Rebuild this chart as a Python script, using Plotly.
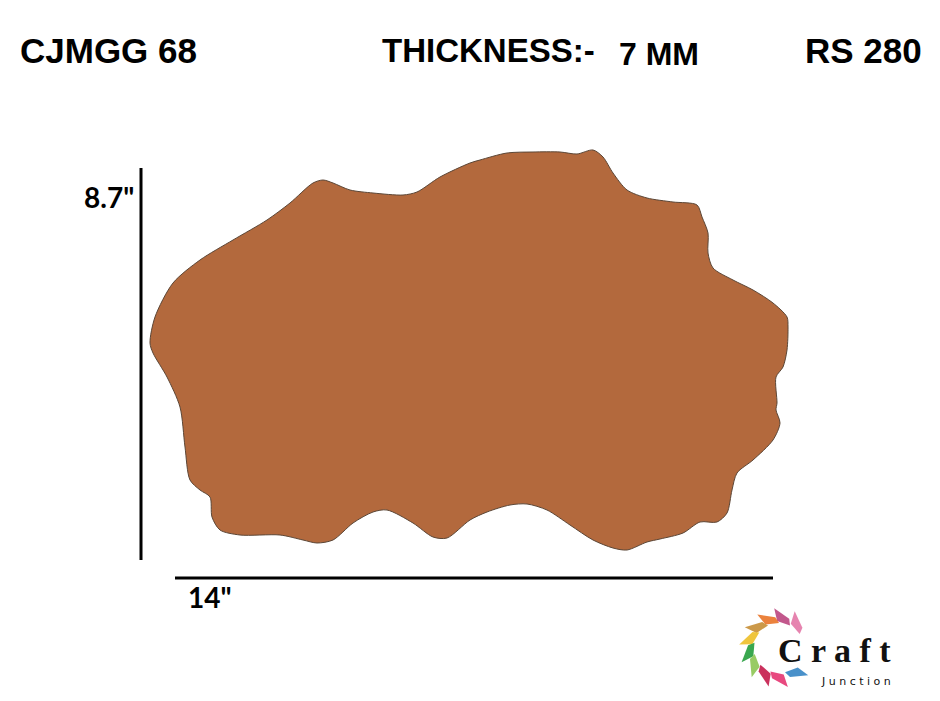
import math
import plotly.graph_objects as go

# =============================================================================
# Product sheet: CJMGG 68 craft blank, 14" x 8.7", 7 mm thick
# Canvas uses pixel-like units (0..940 wide, 0..701 tall, y downward)
# =============================================================================

# Header texts
product_code = "CJMGG 68"
thickness_label = "THICKNESS:-"
thickness_value = "7 MM"
price_label = "RS 280"
height_label = '8.7"'
width_label = '14"'

# Outline of the blank, traced clockwise from the left edge
outline_x = [150, 155, 173, 200, 233, 267, 290, 313, 323, 333, 350, 373, 403, 417,
             440, 470, 480, 507, 533, 560, 577, 593, 603, 613, 627, 647, 673, 697,
             702, 708, 708, 713, 733, 753, 773, 787, 788, 787, 783, 776, 777, 776,
             780, 773, 753, 737, 732, 727, 717, 700, 683, 660, 647, 627, 613, 593,
             570, 547, 527, 510, 487, 470, 447, 433, 413, 387, 373, 353, 333, 317,
             303, 280, 240, 220, 212, 210, 200, 190, 185, 180, 167, 153, 150]
outline_y = [343, 317, 283, 260, 240, 220, 203, 183, 180, 183, 190, 193, 195, 192,
             177, 163, 160, 153, 152, 152, 154, 150, 157, 173, 190, 198, 202, 205,
             217, 233, 253, 268, 280, 290, 303, 317, 327, 350, 367, 377, 403, 410,
             423, 440, 460, 473, 490, 513, 522, 522, 533, 539, 542, 550, 548, 540,
             525, 510, 504, 505, 512, 520, 538, 537, 523, 510, 512, 523, 540, 543,
             540, 535, 535, 530, 517, 497, 490, 480, 447, 407, 377, 353, 343]

# Dimension guides
height_line_x = [141, 141]
height_line_y = [168, 560]
width_line_x = [175, 773]
width_line_y = [578, 578]

# Logo ribbon colours, going anticlockwise from the upper right
logo_colors = ["#e47aa8", "#bd4a82", "#e9772d", "#c8903a", "#eec02c",
               "#28a040", "#8fc757", "#c61f4f", "#e63a74", "#3a88c6"]
logo_angles = [52, 82, 108, 134, 160, 186, 212, 240, 268, 302]

fig = go.Figure()

fig.add_trace(
    go.Scatter(
        x=outline_x,
        y=outline_y,
        mode="lines",
        line=dict(color="#5b4636", width=1, shape="spline", smoothing=0.8),
        fill="toself",
        fillcolor="#b3693d",
        hoverinfo="skip",
    )
)

for gx, gy in [(height_line_x, height_line_y), (width_line_x, width_line_y)]:
    fig.add_trace(
        go.Scatter(x=gx, y=gy, mode="lines", line=dict(color="black", width=3),
                   hoverinfo="skip")
    )

# Logo pinwheel: folded ribbon pieces around a ring
cx, cy, r_in, r_out = 779, 648, 25, 40
for ang, col in zip(logo_angles, logo_colors):
    a0 = math.radians(ang - 18)
    a1 = math.radians(ang + 12)
    pts = [
        (cx + r_in * math.cos(a0), cy - r_in * math.sin(a0)),
        (cx + (r_out - 9) * math.cos(a0 + 0.12), cy - (r_out - 9) * math.sin(a0 + 0.12)),
        (cx + r_out * math.cos(a1 + 0.05), cy - r_out * math.sin(a1 + 0.05)),
        (cx + (r_in + 2) * math.cos(a1), cy - (r_in + 2) * math.sin(a1)),
    ]
    path = "M " + " L ".join(f"{px:.1f},{py:.1f}" for px, py in pts) + " Z"
    fig.add_shape(type="path", path=path, xref="x", yref="y",
                  fillcolor=col, line=dict(width=0), opacity=0.92)

head_font = dict(family="Liberation Sans, Arial", color="black")
dim_font = dict(family="Lato, Open Sans", color="black", size=28)

annotations = [
    dict(x=18, y=50, text=f"<b>{product_code}</b>", xanchor="left",
         font=dict(head_font, size=35)),
    dict(x=380, y=50, text=f"<b>{thickness_label}</b>", xanchor="left",
         font=dict(head_font, size=33)),
    dict(x=617, y=54, text=f"<b>{thickness_value}</b>", xanchor="left",
         font=dict(head_font, size=32)),
    dict(x=924, y=50, text=f"<b>{price_label}</b>", xanchor="right",
         font=dict(head_font, size=35)),
    dict(x=136, y=197, text=f"<b>{height_label}</b>", xanchor="right", font=dim_font),
    dict(x=186, y=597, text=f"<b>{width_label}</b>", xanchor="left", font=dim_font),
    dict(x=776, y=650, text="<b>C r a f t</b>", xanchor="left",
         font=dict(family="Liberation Serif", size=34, color="#111111")),
    dict(x=819, y=681, text="J u n c t i o n", xanchor="left",
         font=dict(family="DejaVu Sans", size=11, color="#111111")),
]
for a in annotations:
    a.update(xref="x", yref="y", yanchor="middle", showarrow=False)

fig.update_layout(
    width=940,
    height=701,
    margin=dict(l=0, r=0, t=0, b=0),
    paper_bgcolor="white",
    plot_bgcolor="white",
    showlegend=False,
    annotations=annotations,
    xaxis=dict(range=[0, 940], visible=False, fixedrange=True),
    yaxis=dict(range=[701, 0], visible=False, fixedrange=True),
)

# the page body has a default margin; drop it so the canvas sits at 0,0
fig.write_html(
    "out.html",
    config={"displayModeBar": False},
    post_script="document.body.style.margin='0';document.body.style.overflow='hidden';",
)
